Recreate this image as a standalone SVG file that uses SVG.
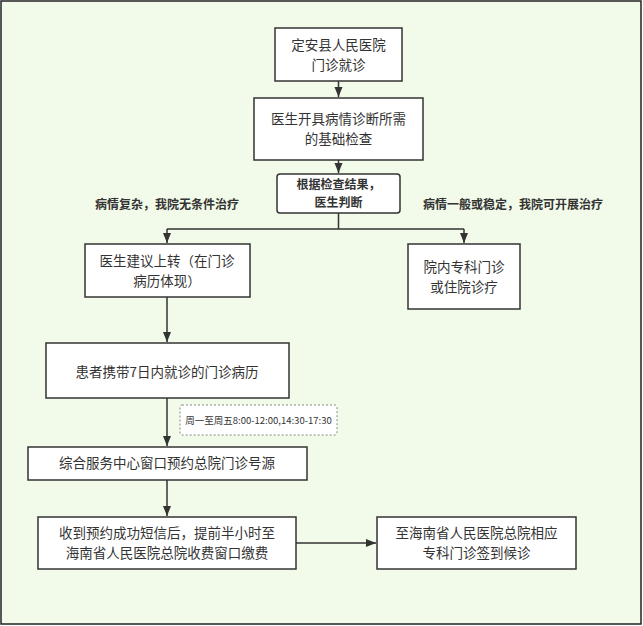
<svg xmlns="http://www.w3.org/2000/svg" width="643" height="626" viewBox="0 0 643 626">
<defs>
<marker id="ah" viewBox="0 0 10 10" refX="10" refY="5" markerWidth="7" markerHeight="7" orient="auto"><path d="M0,1 L10,5 L0,9 Z" fill="#333"/></marker>
<style>
.box{fill:#fff;stroke:#333;stroke-width:1.5}
.t{font-family:"Noto Sans CJK SC","Liberation Sans",sans-serif;font-size:13.5px;fill:#333;text-anchor:middle}
.b{font-weight:bold;font-size:12px}
.c{fill:none;stroke:#333;stroke-width:1.5}
</style>
</defs>
<rect x="1" y="1" width="640" height="623" fill="#f2fbe9" stroke="#222" stroke-width="1.5"/>
<g id="connectors">
<path class="c" d="M338.5,81 V97" marker-end="url(#ah)"/>
<path class="c" d="M338.5,160 V173" marker-end="url(#ah)"/>
<path class="c" d="M338.5,213 V229 M167,229 H464"/>
<path class="c" d="M167,229 V243" marker-end="url(#ah)"/>
<path class="c" d="M464,229 V243" marker-end="url(#ah)"/>
<path class="c" d="M167,297 V342" marker-end="url(#ah)"/>
<path class="c" d="M167,398 V446" marker-end="url(#ah)"/>
<path class="c" d="M167,480 V516" marker-end="url(#ah)"/>
<path class="c" d="M296,543 H376" marker-end="url(#ah)"/>
</g>
<g id="n1"><rect class="box" x="275" y="28" width="127" height="53"/><text class="t" x="338.5" y="50">定安县人民医院</text><text class="t" x="338.5" y="70">门诊就诊</text></g>
<g id="n2"><rect class="box" x="254" y="98" width="169" height="62"/><text class="t" x="338.5" y="124">医生开具病情诊断所需</text><text class="t" x="338.5" y="144">的基础检查</text></g>
<g id="n3"><rect class="box" x="277" y="174" width="123" height="39" rx="3"/><text class="t b" x="338.5" y="189">根据检查结果，</text><text class="t b" x="338.5" y="207">医生判断</text></g>
<g id="l1"><text class="t b" x="167" y="209">病情复杂，我院无条件治疗</text></g>
<g id="l2"><text class="t b" x="513" y="209">病情一般或稳定，我院可开展治疗</text></g>
<g id="n4"><rect class="box" x="85" y="244" width="165" height="53"/><text class="t" x="167" y="266">医生建议上转（在门诊</text><text class="t" x="167" y="286">病历体现）</text></g>
<g id="n5"><rect class="box" x="408" y="244" width="112" height="65"/><text class="t" x="464" y="272">院内专科门诊</text><text class="t" x="464" y="292">或住院诊疗</text></g>
<g id="n6"><rect class="box" x="46" y="343" width="243" height="55"/><text class="t" x="167" y="377">患者携带7日内就诊的门诊病历</text></g>
<g id="note"><rect x="180" y="405" width="157" height="30" rx="2" fill="#fff" stroke="#888" stroke-dasharray="2,2"/><text class="t" x="258.5" y="424" style="font-size:9.5px">周一至周五8:00-12:00,14:30-17:30</text></g>
<g id="n7"><rect class="box" x="28" y="447" width="279" height="33"/><text class="t" x="167" y="468">综合服务中心窗口预约总院门诊号源</text></g>
<g id="n8"><rect class="box" x="38" y="517" width="258" height="52"/><text class="t" x="167" y="538">收到预约成功短信后，提前半小时至</text><text class="t" x="167" y="558">海南省人民医院总院收费窗口缴费</text></g>
<g id="n9"><rect class="box" x="377" y="517" width="199" height="52"/><text class="t" x="476.5" y="538">至海南省人民医院总院相应</text><text class="t" x="476.5" y="558">专科门诊签到候诊</text></g>
</svg>
